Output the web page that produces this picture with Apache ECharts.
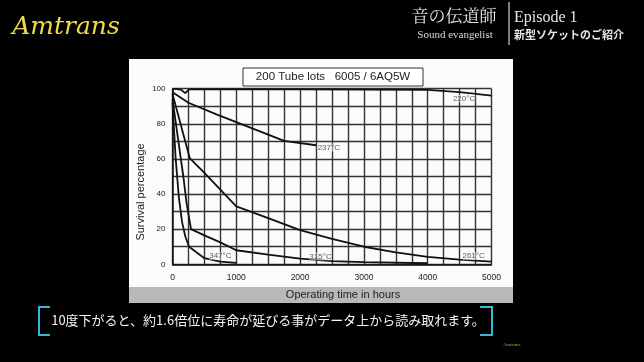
<!DOCTYPE html>
<html><head><meta charset="utf-8">
<script src="https://cdn.jsdelivr.net/npm/echarts@6/dist/echarts.min.js"></script>
<style>html,body{margin:0;padding:0;background:#000;}#c{width:644px;height:362px;}</style>
</head><body><div id="c"></div>
<script>
// ---- data (hours, survival %) ----
const curve220 = [[0,100],[130,99.5],[200,97.5],[260,99.6],[1000,99.6],[2000,99.6],[3000,99.5],[4000,99.3],[4500,98],[5000,96]];
const curve237 = [[0,98],[250,92],[680,85.5],[1000,81],[1750,70.3],[2250,67.8]];
const curve261 = [[0,97],[270,60.5],[500,52],[1000,33],[1500,26.3],[2000,19.5],[2500,14.5],[3000,10],[3500,6.8],[4000,4.2],[4500,2.7],[5000,1.5]];
const curve315 = [[0,94],[100,68],[170,50],[220,35],[290,20],[500,16.5],[750,12.5],[1000,8],[1500,5.5],[2000,3.2],[2500,1.8],[3000,1.2],[4000,0.6]];
const curve347 = [[0,92],[50,60],[100,38],[150,24],[200,16],[260,10],[500,3.5],[750,1.5],[1000,0.8]];
const tempLabels = [[4570,94.5,'220°C'],[2450,66.5,'237°C'],[750,4.7,'347°C'],[2320,4.5,'315°C'],[4720,4.7,'261°C']];
const xTicks = [0,1000,2000,3000,4000,5000];
const yTicks = [0,20,40,60,80,100];
const chartTitle = '200 Tube lots   6005 / 6AQ5W';
const xName = 'Operating time in hours';
const yName = 'Survival percentage';
const subtitle = '10度下がると、約1.6倍位に寿命が延びる事がデータ上から読み取れます。';

const chart = echarts.init(document.getElementById('c'));
const lineS = (name, d) => ({type:'line', name, data:d, symbol:'none', smooth:false, z:5,
  lineStyle:{color:'#111', width:1.8}, silent:true});
const sans = 'Liberation Sans, Arial, sans-serif';
const cjk = '"Noto Sans CJK JP", sans-serif';
const serif = '"Liberation Serif", "Noto Serif CJK JP", "Noto Sans CJK JP", serif';

chart.setOption({
  backgroundColor:'#000',
  animation:false,
  grid:{left:172.5, right:152.5, top:88.7, bottom:97.7, show:false},
  xAxis:{type:'value', min:0, max:5000, interval:250,
    axisLine:{show:true, lineStyle:{color:'#111', width:1.5}}, axisTick:{show:false},
    splitLine:{show:true, lineStyle:{color:'#333', width:1.4}},
    axisLabel:{color:'#222', fontSize:8.5, fontFamily:sans, margin:9,
      formatter:v => xTicks.includes(v) ? String(v) : ''}},
  yAxis:{type:'value', min:0, max:100, interval:10,
    axisLine:{show:true, lineStyle:{color:'#111', width:1.5}}, axisTick:{show:false},
    splitLine:{show:true, lineStyle:{color:'#333', width:1.4}},
    axisLabel:{color:'#222', fontSize:8, fontFamily:sans, margin:7,
      formatter:v => yTicks.includes(v) ? String(v) : ''}},
  graphic:[
    // chart paper
    {type:'rect', shape:{x:129, y:59, width:384, height:228}, style:{fill:'#fbfbfb'}, z:-10},
    {type:'rect', shape:{x:129, y:287, width:384, height:16}, style:{fill:'#b9b9b9'}, z:-10},
    {type:'text', x:343, y:295, style:{text:xName, fill:'#222', font:'11px '+sans, align:'center', verticalAlign:'middle'}},
    {type:'text', x:141, y:192, rotation:Math.PI/2, style:{text:yName, fill:'#222', font:'11px '+sans, align:'center', verticalAlign:'middle'}},
    {type:'rect', shape:{x:243, y:68, width:180, height:18}, style:{fill:'#fff', stroke:'#333', lineWidth:1}, z:10},
    {type:'text', x:333, y:77, z:11, style:{text:chartTitle, fill:'#222', font:'11.5px '+sans, align:'center', verticalAlign:'middle'}},
    // header
    {type:'text', x:66, y:27, style:{text:'Amtrans', fill:'#f0dc46', font:'italic 25px "DejaVu Serif", serif', align:'center', verticalAlign:'middle'}},
    {type:'text', x:454, y:18, style:{text:'音の伝道師', fill:'#e6e6e6', font:'17px '+serif, align:'center', verticalAlign:'middle'}},
    {type:'text', x:455, y:35, style:{text:'Sound evangelist', fill:'#dcdcdc', font:'11px '+serif, align:'center', verticalAlign:'middle'}},
    {type:'line', shape:{x1:509, y1:2, x2:509, y2:45}, style:{stroke:'#d0d0d0', lineWidth:1.2}},
    {type:'text', x:514, y:18, style:{text:'Episode 1', fill:'#e6e6e6', font:'16px '+serif, align:'left', verticalAlign:'middle'}},
    {type:'text', x:514, y:35, style:{text:'新型ソケットのご紹介', fill:'#e6e6e6', font:'bold 11px '+cjk, align:'left', verticalAlign:'middle'}},
    // subtitle
    {type:'text', x:268, y:320, style:{text:subtitle, fill:'#f4f4f4', font:'13px '+cjk, align:'center', verticalAlign:'middle'}},
    {type:'polyline', shape:{points:[[50,307],[39,307],[39,335],[50,335]]}, style:{stroke:'#39b6d6', lineWidth:2, fill:null}},
    {type:'polyline', shape:{points:[[480,307],[492,307],[492,335],[480,335]]}, style:{stroke:'#39b6d6', lineWidth:2, fill:null}},
    {type:'text', x:512, y:345, style:{text:'Amtrans', fill:'#c9a93a', font:'italic 5px serif', align:'center', verticalAlign:'middle'}}
  ],
  series:[
    lineS('220°C', curve220),
    lineS('237°C', curve237),
    lineS('261°C', curve261),
    lineS('315°C', curve315),
    lineS('347°C', curve347),
    {type:'scatter', symbolSize:0, z:6, silent:true,
      data:tempLabels.map(t => ({value:[t[0], t[1]], name:t[2]})),
      label:{show:true, position:'inside', formatter:p => p.name, color:'#333', fontSize:8, fontFamily:sans,
        backgroundColor:'rgba(251,251,251,0.6)'}}
  ]
});
</script></body></html>
